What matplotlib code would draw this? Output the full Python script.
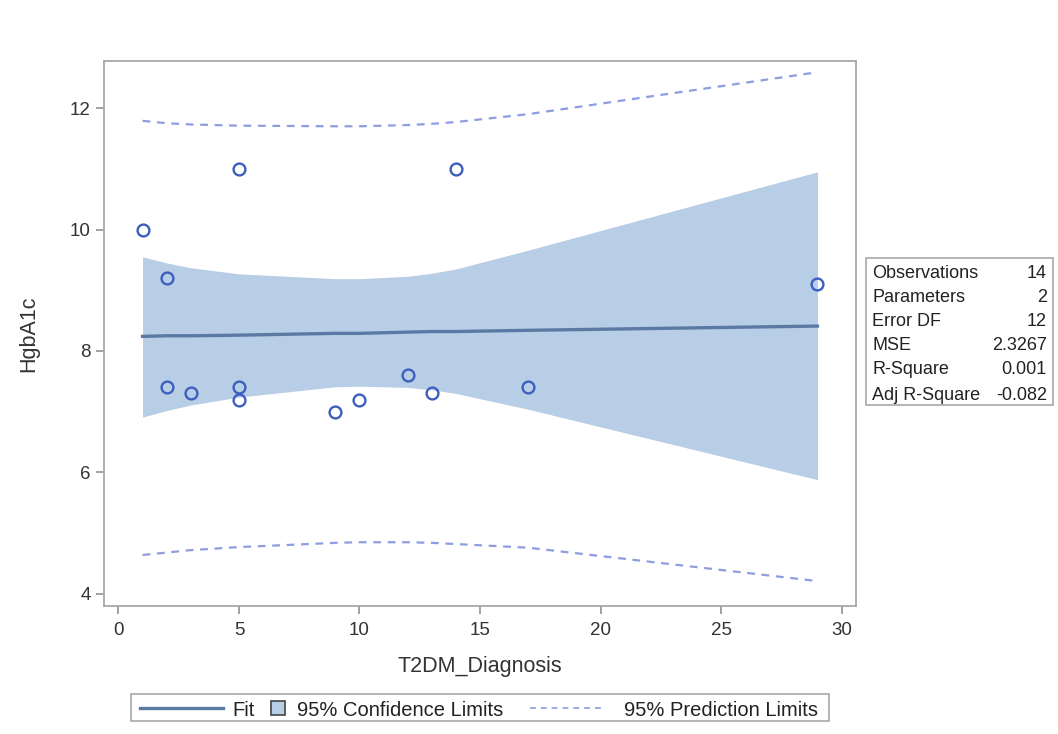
import matplotlib
matplotlib.use("Agg")
import matplotlib.pyplot as plt
from matplotlib.lines import Line2D
from matplotlib.patches import Rectangle

plt.rcParams['font.family'] = ['Liberation Sans', 'DejaVu Sans']

# Observations
t2dm = [1, 2, 2, 3, 5, 5, 5, 9, 10, 12, 13, 14, 17, 29]
hgba1c = [10.0, 9.2, 7.4, 7.3, 11.0, 7.4, 7.2, 7.0, 7.2, 7.6, 7.3, 11.0, 7.4, 9.1]

# Fit and limits at distinct x values
xs = [1, 2, 3, 5, 9, 10, 12, 13, 14, 17, 29]
fit = [8.24, 8.25, 8.25, 8.26, 8.29, 8.29, 8.31, 8.32, 8.32, 8.34, 8.41]
cl_low = [6.91, 7.02, 7.11, 7.24, 7.41, 7.42, 7.40, 7.36, 7.30, 7.04, 5.88]
cl_up = [9.55, 9.45, 9.37, 9.27, 9.19, 9.19, 9.23, 9.28, 9.35, 9.66, 10.95]
pl_low = [4.64, 4.68, 4.72, 4.77, 4.84, 4.85, 4.85, 4.84, 4.82, 4.76, 4.21]
pl_up = [11.79, 11.75, 11.73, 11.71, 11.70, 11.70, 11.72, 11.74, 11.77, 11.90, 12.59]

stat_names = ["Observations", "Parameters", "Error DF", "MSE", "R-Square", "Adj R-Square"]
stat_values = ["14", "2", "12", "2.3267", "0.001", "-0.082"]

legend_labels = ["Fit", "95% Confidence Limits", "95% Prediction Limits"]

xticks = [0, 5, 10, 15, 20, 25, 30]
yticks = [4, 6, 8, 10, 12]

band_c = "#b8cde6"
fit_c = "#5b7aa3"
mark_c = "#3d5fbf"
pl_c = "#8e9de0"
frame_c = "#a8a8a8"
text_c = "#222222"

W, H = 1058.0, 734.0
fig = plt.figure(figsize=(W / 100, H / 100), dpi=100)
ax = fig.add_axes([0.0983, 0.1744, 0.7108, 0.7429])

ax.fill_between(xs, cl_low, cl_up, color=band_c, linewidth=0, zorder=1)
ax.plot(xs, fit, color=fit_c, lw=2.4, zorder=2)
ax.plot(xs, pl_up, color=pl_c, lw=1.6, dashes=(3.5, 3), zorder=2)
ax.plot(xs, pl_low, color=pl_c, lw=1.6, dashes=(3.5, 3), zorder=2)
ax.plot(t2dm, hgba1c, linestyle='none', marker='o', markersize=8.5,
        markerfacecolor='none', markeredgecolor=mark_c, markeredgewidth=1.7, zorder=3)

ax.set_xlim(-0.6, 30.6)
ax.set_ylim(3.8, 12.78)
ax.set_xticks(xticks)
ax.set_yticks(yticks)
for s in ax.spines.values():
    s.set_color(frame_c)
    s.set_linewidth(1.3)
ax.tick_params(colors="#333333", labelsize=13.5, length=5.5, width=1.1, color="#888888")
ax.tick_params(axis='x', pad=6)
ax.tick_params(axis='y', pad=4)
ax.set_xlabel("T2DM_Diagnosis", fontsize=15.5, color="#333333", labelpad=12)
ax.set_ylabel("HgbA1c", fontsize=15.5, color="#333333", labelpad=22)


def fx(px):
    return px / W


def fy(py):
    return 1 - py / H


# Statistics inset
bx0, bx1, by0, by1 = 866, 1053, 258, 405
fig.patches.append(Rectangle((fx(bx0), fy(by1)), (bx1 - bx0) / W, (by1 - by0) / H,
                             transform=fig.transFigure, facecolor='white',
                             edgecolor=frame_c, linewidth=1.2))
row_y = [271, 295, 320, 344, 368, 393]
for name, val, yy in zip(stat_names, stat_values, row_y):
    fig.text(fx(872), fy(yy), name, fontsize=13, color=text_c, va='center_baseline', ha='left')
    fig.text(fx(1047), fy(yy), val, fontsize=13, color=text_c, va='center_baseline', ha='right')

# Legend drawn manually
lx0, lx1, ly0, ly1 = 131, 829, 694, 721
fig.patches.append(Rectangle((fx(lx0), fy(ly1)), (lx1 - lx0) / W, (ly1 - ly0) / H,
                             transform=fig.transFigure, facecolor='white',
                             edgecolor=frame_c, linewidth=1.2))
ly = 708
fig.add_artist(Line2D([fx(140), fx(223)], [fy(ly), fy(ly)], transform=fig.transFigure,
                      color=fit_c, lw=2.4))
fig.text(fx(232), fy(ly), legend_labels[0], fontsize=14.5, color=text_c,
         va='center_baseline', ha='left')
fig.patches.append(Rectangle((fx(271), fy(ly + 7)), 14 / W, 14 / H, transform=fig.transFigure,
                             facecolor=band_c, edgecolor="#444444", linewidth=1.2))
fig.text(fx(297), fy(ly), legend_labels[1], fontsize=14.5, color=text_c,
         va='center_baseline', ha='left')
fig.add_artist(Line2D([fx(530), fx(602)], [fy(ly), fy(ly)], transform=fig.transFigure,
                      color=pl_c, lw=1.2, dashes=(3.5, 3)))
fig.text(fx(818), fy(ly), legend_labels[2], fontsize=14.5, color=text_c,
         va='center_baseline', ha='right')

fig.savefig("out.png", dpi=100)
